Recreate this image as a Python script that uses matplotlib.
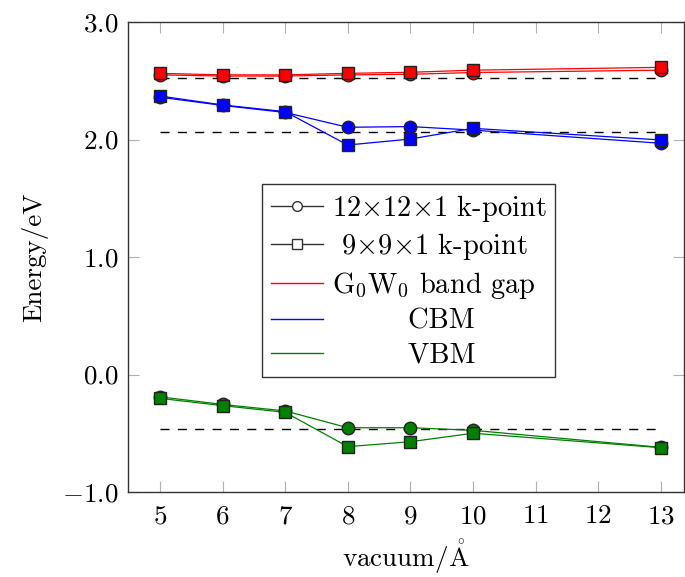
import matplotlib
matplotlib.use("Agg")
import matplotlib.pyplot as plt
import matplotlib.ticker as mtick
from matplotlib.lines import Line2D

plt.rcParams["font.family"] = ["cmr10", "DejaVu Serif"]
plt.rcParams["mathtext.fontset"] = "cm"
plt.rcParams["axes.formatter.use_mathtext"] = True

# vacuum thickness / Angstrom
vacuum = [5, 6, 7, 8, 9, 10, 13]

# 12x12x1 k-point mesh
gap_12 = [2.55, 2.54, 2.54, 2.55, 2.555, 2.57, 2.59]
cbm_12 = [2.36, 2.29, 2.23, 2.104, 2.11, 2.08, 1.968]
vbm_12 = [-0.19, -0.255, -0.31, -0.453, -0.453, -0.475, -0.62]

# 9x9x1 k-point mesh
gap_9 = [2.563, 2.55, 2.55, 2.563, 2.572, 2.59, 2.614]
cbm_9 = [2.37, 2.294, 2.237, 1.953, 2.004, 2.095, 1.996]
vbm_9 = [-0.203, -0.265, -0.322, -0.614, -0.572, -0.50, -0.623]

# reference levels (dashed)
ref_x = [5, 13]
ref_gap = 2.52
ref_cbm = 2.06
ref_vbm = -0.467

fs = 19.5

fig = plt.figure(figsize=(6.85, 5.77), dpi=100)
ax = fig.add_axes([128 / 685, 85 / 577, 556 / 685, 470 / 577])

for lvl in (ref_gap, ref_cbm, ref_vbm):
    ax.plot(ref_x, [lvl, lvl], color="black", lw=1.0, dashes=(6.5, 6), zorder=1)

for ys, col in ((gap_12, "red"), (cbm_12, "blue"), (vbm_12, "green")):
    ax.plot(vacuum, ys, color=col, lw=0.9, marker="o", ms=9,
            mfc=col, mec="#222222", mew=1.0, zorder=2)
for ys, col in ((gap_9, "red"), (cbm_9, "blue"), (vbm_9, "green")):
    ax.plot(vacuum, ys, color=col, lw=0.9, marker="s", ms=9,
            mfc=col, mec="#222222", mew=1.0, zorder=3)

ax.set_xlim(4.49, 13.37)
ax.set_ylim(-1, 3)
ax.set_xticks(range(5, 14))
ax.set_yticks([-1, 0, 1, 2, 3])
ax.xaxis.set_major_formatter(mtick.FuncFormatter(lambda v, _: f"${int(v)}$"))
ax.yaxis.set_major_formatter(mtick.FuncFormatter(lambda v, _: f"${v:.1f}$"))
ax.tick_params(direction="in", length=8, width=0.8, color="#b0b0b0",
               labelsize=fs, top=True, right=True, labelcolor="black")
ax.tick_params(axis="x", pad=9)
ax.tick_params(axis="y", pad=7)
for sp in ax.spines.values():
    sp.set_color("#333333")
    sp.set_linewidth(1.0)

ax.set_xlabel(r"vacuum/$\mathring{\mathrm{A}}$", fontsize=fs, labelpad=6)
ax.set_ylabel("Energy/eV", fontsize=fs, labelpad=10)

handles = [
    Line2D([], [], color="#333333", lw=1, marker="o", ms=7, mfc="white", mec="#333333"),
    Line2D([], [], color="#333333", lw=1, marker="s", ms=7, mfc="white", mec="#333333"),
    Line2D([], [], color="red", lw=1),
    Line2D([], [], color="blue", lw=1),
    Line2D([], [], color="green", lw=1),
]
labels = [
    r"12$\times$12$\times$1 k-point",
    r" 9$\times$9$\times$1 k-point",
    r"G$_0$W$_0$ band gap",
    "        CBM",
    "        VBM",
]
leg = ax.legend(handles, labels, loc="upper left",
                bbox_to_anchor=((262 - 128) / 556, (492 - 184) / 470),
                borderaxespad=0, fontsize=20.5, handlelength=1.85,
                handletextpad=0.3, labelspacing=0.27, borderpad=0.3,
                fancybox=False, framealpha=1, edgecolor="#333333")
leg.get_frame().set_linewidth(1.0)

fig.savefig("out.png", dpi=100)
